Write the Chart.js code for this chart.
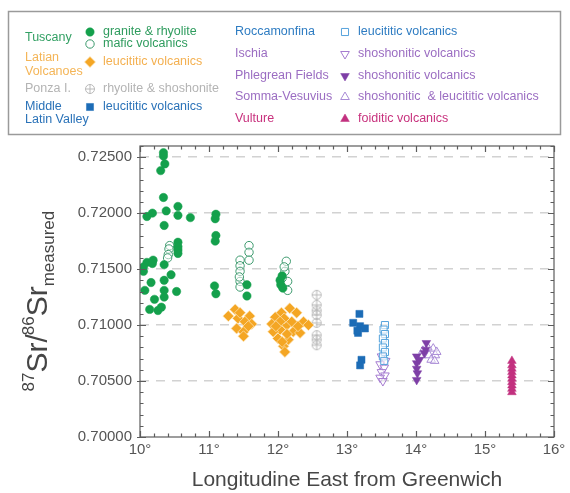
<!DOCTYPE html>
<html>
<head>
<meta charset="utf-8">
<title>87Sr/86Sr vs longitude</title>
<script src="https://cdn.jsdelivr.net/npm/chart.js@4.4.1/dist/chart.umd.min.js"></script>
<style>
  html, body { margin: 0; padding: 0; background: #fff; }
  canvas { display: block; }
</style>
</head>
<body>
<canvas id="chartSr" width="570" height="493"></canvas>
<script>
// --- axis setup ---
const X_MIN = 10, X_MAX = 16;
const Y_MIN = 0.700, Y_MAX = 0.7260;
const FONT = "'Liberation Sans', Arial, Helvetica, sans-serif";

// tick values
const xTickValues = [10, 11, 12, 13, 14, 15, 16];
const yTickValues = [0.700, 0.705, 0.710, 0.715, 0.720, 0.725];

// --- data (longitude °E, 87Sr/86Sr) ---
// Tuscany - granite & rhyolite
const tuscanyGraniteLon = [10.34, 10.34, 10.36, 10.30, 10.34, 10.10, 10.18, 10.38, 10.55, 10.55, 10.73, 10.35,
  11.10, 11.09, 11.10, 11.09, 10.55, 10.55, 10.55, 10.55, 10.10, 10.18, 10.05, 10.19, 10.35, 10.05, 10.45,
  10.35, 10.16, 10.07, 10.35, 10.53, 10.21, 10.35, 10.14, 10.26, 10.31, 11.08, 11.10, 11.55, 11.55,
  12.03, 12.04, 12.07, 12.06];
const tuscanyGraniteSr = [0.7254, 0.7251, 0.7244, 0.7238, 0.7214, 0.7197, 0.7200, 0.7202, 0.7206, 0.7198, 0.7196, 0.7189,
  0.7199, 0.7195, 0.7180, 0.7175, 0.7174, 0.7170, 0.7167, 0.7164, 0.7156, 0.7155, 0.7152, 0.7158, 0.7154, 0.7148, 0.7145,
  0.7140, 0.7138, 0.7131, 0.7131, 0.7130, 0.7123, 0.7125, 0.7114, 0.7113, 0.7116, 0.7135, 0.7128, 0.7136, 0.7126,
  0.7140, 0.7136, 0.7133, 0.7144];
// Tuscany - mafic volcanics
const tuscanyMaficLon = [10.43, 10.42, 10.41, 10.40, 11.58, 11.58, 11.58, 11.45, 11.45, 11.45, 11.45, 11.45, 11.44,
  12.12, 12.10, 12.14, 12.14, 12.06, 12.09];
const tuscanyMaficSr = [0.7171, 0.7168, 0.7163, 0.7160, 0.7171, 0.7165, 0.7158, 0.7158, 0.7153, 0.7148, 0.7139, 0.7134, 0.7143,
  0.7157, 0.7148, 0.7139, 0.7131, 0.7142, 0.7152];
// Latian Volcanoes - leucititic volcanics
const latianLon = [11.38, 11.28, 11.42, 11.59, 11.52, 11.62, 11.40, 11.50, 11.50, 11.57, 11.45,
  12.17, 12.05, 11.96, 12.27, 12.37, 12.44, 11.91, 12.13, 12.03, 12.22, 12.32, 12.00, 12.15, 12.08, 12.10,
  11.93, 12.09, 12.20, 12.03, 12.29, 11.97, 12.13, 12.06];
const latianSr = [0.7114, 0.7108, 0.7106, 0.7108, 0.7103, 0.7101, 0.7097, 0.7094, 0.7090, 0.7099, 0.7111,
  0.7115, 0.7111, 0.7107, 0.7111, 0.7103, 0.7100, 0.7101, 0.7100, 0.7096, 0.7094, 0.7093, 0.7088, 0.7087, 0.7081, 0.7076,
  0.7094, 0.7106, 0.7103, 0.7103, 0.7099, 0.7099, 0.7092, 0.7085];
// Ponza I. - rhyolite & shoshonite
const ponzaLon = [12.56, 12.56, 12.56, 12.56, 12.56, 12.56, 12.56, 12.56];
const ponzaSr = [0.7127, 0.7118, 0.7113, 0.7109, 0.7102, 0.7091, 0.7087, 0.7082];
// Middle Latin Valley - leucititic volcanics
const mlvLon = [13.18, 13.09, 13.19, 13.26, 13.16, 13.15, 13.21, 13.19];
const mlvSr = [0.7110, 0.7102, 0.7099, 0.7097, 0.7093, 0.7095, 0.7069, 0.7064];
// Roccamonfina - leucititic volcanics
const roccaLon = [13.55, 13.53, 13.55, 13.52, 13.55, 13.52, 13.55, 13.52, 13.54];
const roccaSr = [0.7100, 0.7096, 0.7092, 0.7088, 0.7084, 0.7080, 0.7076, 0.7072, 0.7068];
// Ischia - shoshonitic volcanics
const ischiaLon = [13.50, 13.56, 13.48, 13.54, 13.50, 13.55, 13.48, 13.52];
const ischiaSr = [0.7072, 0.7068, 0.7065, 0.7062, 0.7058, 0.7055, 0.7053, 0.7050];
// Phlegrean Fields - shoshonitic volcanics
const phlegreanLon = [14.15, 14.01, 14.12, 14.01, 14.01, 14.02, 14.01, 14.05, 14.14];
const phlegreanSr = [0.7084, 0.7072, 0.7075, 0.7066, 0.7061, 0.7057, 0.7051, 0.7069, 0.7078];
// Somma-Vesuvius - shoshonitic & leucititic volcanics
const sommaLon = [14.25, 14.28, 14.19, 14.22, 14.08, 14.10, 14.30, 14.17, 14.27];
const sommaSr = [0.7079, 0.7073, 0.7073, 0.7069, 0.7073, 0.7077, 0.7076, 0.7080, 0.7068];
// Vulture - foiditic volcanics
const vultureLon = [15.39, 15.39, 15.39, 15.39, 15.39, 15.39, 15.39, 15.39, 15.39, 15.39];
const vultureSr = [0.7068, 0.7064, 0.7061, 0.7058, 0.7055, 0.7052, 0.7049, 0.7046, 0.7043, 0.7040];

function pts(lon, sr) { return lon.map((x, i) => ({ x: x, y: sr[i] })); }

// crossed circle marker (Ponza I.)
function crossCircle(color, r) {
  const c = document.createElement('canvas');
  const s = Math.ceil(r * 2 + 3);
  c.width = s; c.height = s;
  const g = c.getContext('2d');
  g.strokeStyle = color; g.lineWidth = 1;
  g.beginPath(); g.arc(s / 2, s / 2, r, 0, Math.PI * 2); g.stroke();
  g.beginPath();
  g.moveTo(s / 2 - r, s / 2); g.lineTo(s / 2 + r, s / 2);
  g.moveTo(s / 2, s / 2 - r); g.lineTo(s / 2, s / 2 + r);
  g.stroke();
  return c;
}
const ponzaMarker = crossCircle('#b9b9b9', 4.5);

const series = [
  { label: 'Tuscany granite & rhyolite', data: pts(tuscanyGraniteLon, tuscanyGraniteSr), pointStyle: 'circle', pointRadius: 4.2, backgroundColor: '#14a04c', borderColor: '#14a04c', pointBorderWidth: 0.5 },
  { label: 'Tuscany mafic volcanics', data: pts(tuscanyMaficLon, tuscanyMaficSr), pointStyle: 'circle', pointRadius: 4.2, backgroundColor: 'rgba(255,255,255,0.5)', borderColor: '#3d9a6e', pointBorderWidth: 1 },
  { label: 'Latian leucititic volcanics', data: pts(latianLon, latianSr), pointStyle: 'rectRot', pointRadius: 5.5, backgroundColor: '#f4a624', borderColor: '#fde6bd', pointBorderWidth: 0.7 },
  { label: 'Ponza rhyolite & shoshonite', data: pts(ponzaLon, ponzaSr), pointStyle: ponzaMarker, pointRadius: 4.5, backgroundColor: '#b9b9b9', borderColor: '#b9b9b9' },
  { label: 'Middle Latin Valley leucititic volcanics', data: pts(mlvLon, mlvSr), pointStyle: 'rect', pointRadius: 5, backgroundColor: '#1c6cb6', borderColor: '#1c6cb6', pointBorderWidth: 0.5 },
  { label: 'Roccamonfina leucititic volcanics', data: pts(roccaLon, roccaSr), pointStyle: 'rect', pointRadius: 5, backgroundColor: 'rgba(255,255,255,0.6)', borderColor: '#56a3dc', pointBorderWidth: 1 },
  { label: 'Ischia shoshonitic volcanics', data: pts(ischiaLon, ischiaSr), pointStyle: 'triangle', rotation: 180, pointRadius: 5, backgroundColor: 'rgba(255,255,255,0.5)', borderColor: '#a57bd0', pointBorderWidth: 1 },
  { label: 'Phlegrean Fields shoshonitic volcanics', data: pts(phlegreanLon, phlegreanSr), pointStyle: 'triangle', rotation: 180, pointRadius: 5, backgroundColor: '#7e3fa6', borderColor: '#7e3fa6', pointBorderWidth: 0.5 },
  { label: 'Somma-Vesuvius shoshonitic & leucititic volcanics', data: pts(sommaLon, sommaSr), pointStyle: 'triangle', pointRadius: 5, backgroundColor: 'rgba(255,255,255,0.5)', borderColor: '#a98bd6', pointBorderWidth: 1 },
  { label: 'Vulture foiditic volcanics', data: pts(vultureLon, vultureSr), pointStyle: 'triangle', pointRadius: 5, backgroundColor: '#c2307f', borderColor: '#c2307f', pointBorderWidth: 0.5 }
];

// legend: group labels [text, color, x, y] and marker rows [dataset, text, color, x, y]
const legendGroups = [
  ['Tuscany', '#33a064', 25, 38], ['Latian', '#f4b557', 25, 58], ['Volcanoes', '#f4b557', 25, 72],
  ['Ponza I.', '#b4b4b4', 25, 89], ['Middle', '#2a72b8', 25, 107], ['Latin Valley', '#2a72b8', 25, 120],
  ['Roccamonfina', '#2e7cc2', 235, 32], ['Ischia', '#9b6dc2', 235, 54], ['Phlegrean Fields', '#9b6dc2', 235, 76],
  ['Somma-Vesuvius', '#9b6dc2', 235, 97], ['Vulture', '#c8327e', 235, 119]
];
const legendItems = [
  [0, 'granite & rhyolite', '#2f9c5e', 90, 32],
  [1, 'mafic volcanics', '#2f9c5e', 90, 44],
  [2, 'leucititic volcanics', '#f4b050', 90, 62],
  [3, 'rhyolite & shoshonite', '#b4b4b4', 90, 89],
  [4, 'leucititic volcanics', '#2a72b8', 90, 107],
  [5, 'leucititic volcanics', '#2e7cc2', 345, 32],
  [6, 'shoshonitic volcanics', '#9b6dc2', 345, 54],
  [7, 'shoshonitic volcanics', '#9b6dc2', 345, 76],
  [8, 'shoshonitic  & leucititic volcanics', '#9b6dc2', 345, 97],
  [9, 'foiditic volcanics', '#c8327e', 345, 119]
];

const legendPlugin = {
  id: 'legendBox',
  afterDraw(chart) {
    const ctx = chart.ctx;
    ctx.save();
    ctx.strokeStyle = '#9a9a9a';
    ctx.lineWidth = 1.5;
    ctx.strokeRect(8.5, 11.5, 552, 123);
    ctx.font = '12.5px ' + FONT;
    ctx.textBaseline = 'middle';
    ctx.textAlign = 'left';
    legendGroups.forEach(([t, c, x, y]) => { ctx.fillStyle = c; ctx.fillText(t, x, y); });
    legendItems.forEach(([idx, t, c, x, y]) => {
      const ds = series[idx];
      ctx.fillStyle = ds.backgroundColor;
      ctx.strokeStyle = ds.borderColor;
      ctx.lineWidth = ds.pointBorderWidth || 1;
      Chart.helpers.drawPoint(ctx, { pointStyle: ds.pointStyle, radius: ds.pointRadius, rotation: ds.rotation || 0, borderWidth: ds.pointBorderWidth || 1 }, x, y);
      ctx.fillStyle = c;
      ctx.fillText(t, x + 13, y);
    });
    ctx.restore();
  }
};

// frame, inward ticks and y title with super/subscripts
const framePlugin = {
  id: 'frameTicks',
  afterDraw(chart) {
    const { ctx, chartArea: a, scales: { x, y } } = chart;
    ctx.save();
    ctx.strokeStyle = '#5c5c5c';
    ctx.lineWidth = 1.2;
    ctx.strokeRect(a.left, a.top, a.right - a.left, a.bottom - a.top);
    ctx.beginPath();
    for (let i = 0; i <= 30; i++) {
      const px = Math.round(x.getPixelForValue(X_MIN + i * 0.2)) + 0.5;
      const len = i % 5 === 0 ? 6 : 3.5;
      ctx.moveTo(px, a.bottom); ctx.lineTo(px, a.bottom - len);
      ctx.moveTo(px, a.top); ctx.lineTo(px, a.top + len);
    }
    for (let i = 0; i <= 26; i++) {
      const py = Math.round(y.getPixelForValue(Y_MIN + i * 0.001)) + 0.5;
      const len = i % 5 === 0 ? 6 : 3.5;
      ctx.moveTo(a.left - (i % 5 === 0 ? 3 : 0), py); ctx.lineTo(a.left + len, py);
      ctx.moveTo(a.right, py); ctx.lineTo(a.right - len, py);
    }
    ctx.stroke();

    // y title: 87Sr/86Sr measured
    ctx.translate(47, (a.top + a.bottom) / 2 + 100);
    ctx.rotate(-Math.PI / 2);
    ctx.fillStyle = '#454545';
    ctx.textBaseline = 'alphabetic';
    ctx.textAlign = 'left';
    const parts = [['87', 17, -13], ['Sr', 30, 0], ['/', 30, 0], ['86', 17, -13], ['Sr', 30, 0], ['measured', 17, 7]];
    let cx = 0;
    parts.forEach(([t, s, dy]) => {
      ctx.font = s + 'px ' + FONT;
      ctx.fillText(t, cx, dy);
      cx += ctx.measureText(t).width + (t === '/' ? -1 : 0);
    });
    ctx.restore();
  }
};

new Chart(document.getElementById('chartSr'), {
  type: 'scatter',
  data: { datasets: series.map(s => Object.assign({ showLine: false, pointHoverRadius: s.pointRadius }, s)) },
  options: {
    responsive: false,
    animation: false,
    events: [],
    layout: { padding: { top: 146, right: 16, bottom: 0, left: 0 } },
    plugins: { legend: { display: false }, tooltip: { enabled: false }, title: { display: false } },
    scales: {
      x: {
        type: 'linear', min: X_MIN, max: X_MAX,
        afterFit(scale) { scale.height = 56; },
        afterBuildTicks(scale) { scale.ticks = xTickValues.map(v => ({ value: v })); },
        ticks: { padding: 4, color: '#555', font: { family: FONT, size: 15 }, callback: v => v + '°' },
        grid: { display: false, drawTicks: false },
        border: { display: false },
        title: { display: true, text: 'Longitudine East from Greenwich', color: '#474747', font: { family: FONT, size: 21 }, padding: { top: 0, bottom: 0 } }
      },
      y: {
        type: 'linear', min: Y_MIN, max: Y_MAX,
        afterFit(scale) { scale.width = 140; },
        afterBuildTicks(scale) { scale.ticks = yTickValues.map(v => ({ value: v })); },
        ticks: { padding: 8, color: '#555', font: { family: FONT, size: 15 }, callback: v => Number(v).toFixed(5) },
        grid: { drawTicks: false, lineWidth: 1.5, color: c => (c.tick && c.tick.value > 0.7001) ? '#d2d2d2' : 'rgba(0,0,0,0)' },
        border: { display: false, dash: [9, 7] }
      }
    }
  },
  plugins: [legendPlugin, framePlugin]
});
</script>
</body>
</html>
